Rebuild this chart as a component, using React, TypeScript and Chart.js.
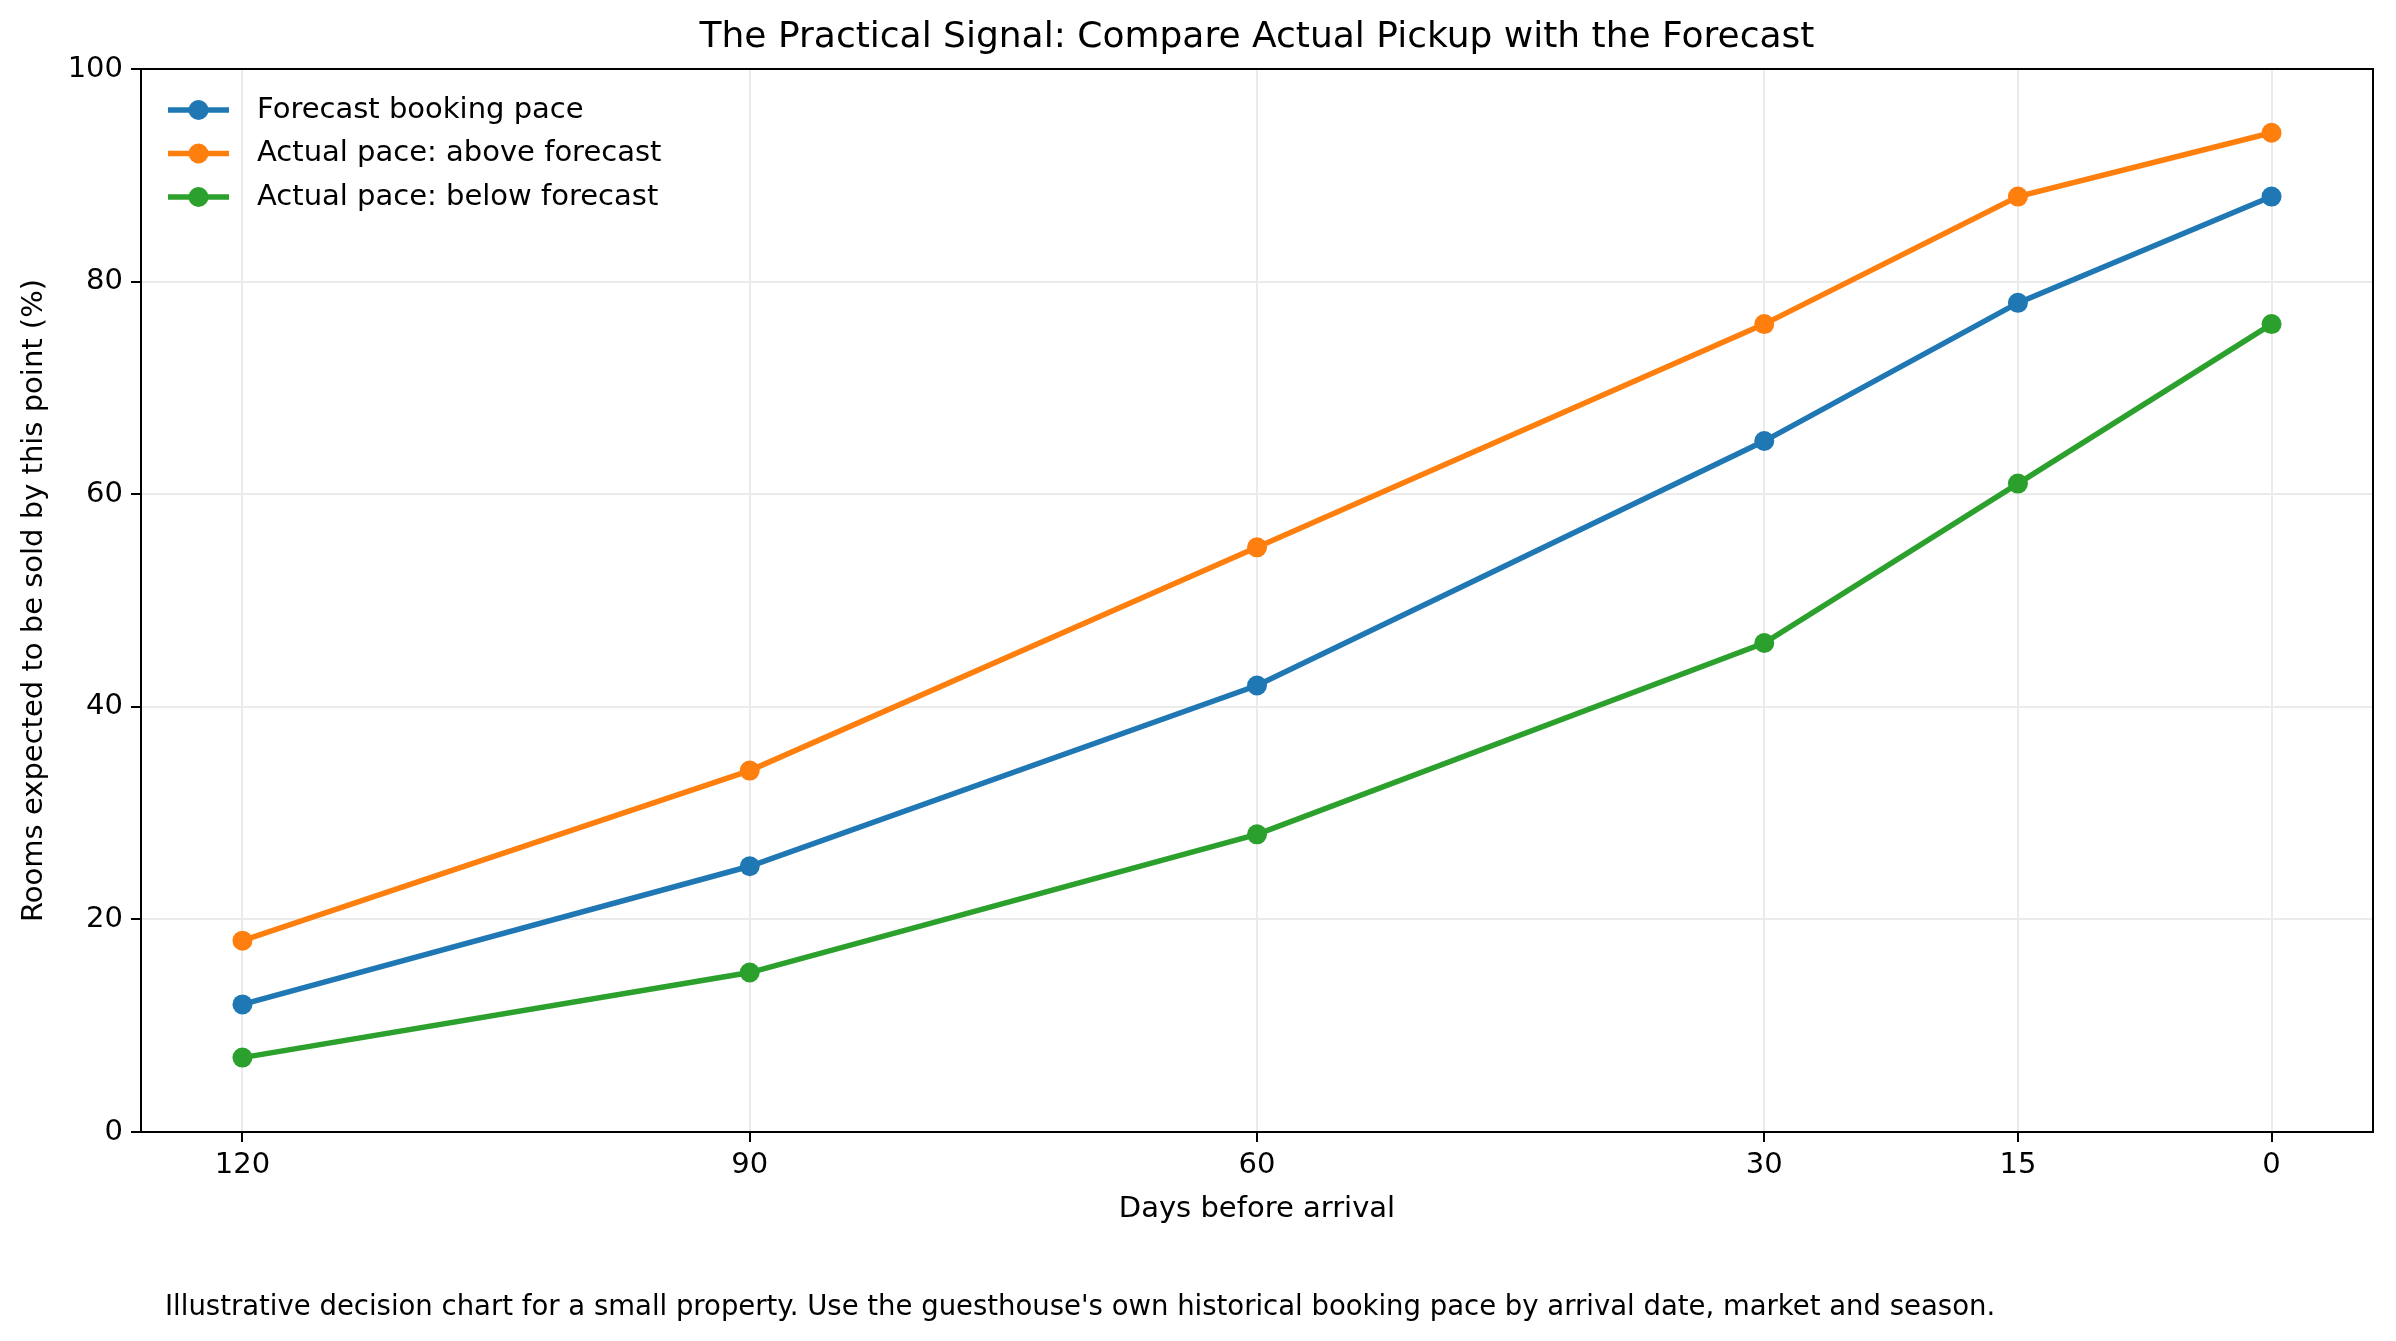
import React, { useEffect, useRef } from "react";
import { Chart, registerables } from "chart.js";
Chart.register(...registerables);

const days = [120, 90, 60, 30, 15, 0];
const forecast = [12, 25, 42, 65, 78, 88];
const above = [18, 34, 55, 76, 88, 94];
const below = [7, 15, 28, 46, 61, 76];
const seriesNames = ["Forecast booking pace", "Actual pace: above forecast", "Actual pace: below forecast"];
const colors = ["#1f77b4", "#ff7f0e", "#2ca02c"];
const yTicks = [0, 20, 40, 60, 80, 100];

const FONT = "DejaVu Sans";

const textPlugin = {
  id: "texts",
  afterDraw(chart: any) {
    const ctx = chart.ctx;
    const ca = chart.chartArea;
    ctx.save();
    ctx.fillStyle = "#000";
    ctx.textAlign = "center";
    ctx.textBaseline = "middle";
    ctx.font = `36px ${FONT}`;
    ctx.fillText("The Practical Signal: Compare Actual Pickup with the Forecast", (ca.left + ca.right) / 2, 38);
    ctx.font = `29px ${FONT}`;
    ctx.fillText("Days before arrival", (ca.left + ca.right) / 2, 1209);
    ctx.save();
    ctx.translate(34, (ca.top + ca.bottom) / 2);
    ctx.rotate(-Math.PI / 2);
    ctx.fillText("Rooms expected to be sold by this point (%)", 0, 0);
    ctx.restore();
    ctx.textAlign = "left";
    ctx.font = `27.5px ${FONT}`;
    ctx.fillText("Illustrative decision chart for a small property. Use the guesthouse's own historical booking pace by arrival date, market and season.", 165, 1308);
    ctx.font = `29px ${FONT}`;
    seriesNames.forEach((n, i) => {
      const y = 110 + i * 43.5;
      ctx.strokeStyle = colors[i];
      ctx.lineWidth = 5.5;
      ctx.beginPath();
      ctx.moveTo(168, y);
      ctx.lineTo(229, y);
      ctx.stroke();
      ctx.fillStyle = colors[i];
      ctx.beginPath();
      ctx.arc(198.5, y, 10, 0, Math.PI * 2);
      ctx.fill();
      ctx.fillStyle = "#000";
      ctx.fillText(n, 257, y);
    });
    ctx.restore();
  },
};

export default function App() {
  const ref = useRef<HTMLCanvasElement>(null);
  useEffect(() => {
    const mk = (d: number[], i: number) => ({
      label: seriesNames[i],
      data: days.map((x, k) => ({ x, y: d[k] })),
      borderColor: colors[i],
      backgroundColor: colors[i],
      borderWidth: 5.5,
      pointRadius: 10,
      pointBorderWidth: 0,
      pointHoverRadius: 10,
      tension: 0,
    });
    const chart = new Chart(ref.current!, {
      type: "line",
      data: { datasets: [mk(forecast, 0), mk(above, 1), mk(below, 2)] },
      options: {
        animation: false,
        responsive: false,
        layout: { padding: { top: 69, right: 23, left: 0, bottom: 0 } },
        plugins: { legend: { display: false }, title: { display: false }, tooltip: { enabled: false } },
        scales: {
          x: {
            type: "linear",
            reverse: true,
            min: -6,
            max: 126,
            afterBuildTicks: (s: any) => { s.ticks = days.map((v) => ({ value: v })); },
            afterFit: (s: any) => { s.height = 209; },
            ticks: { font: { family: FONT, size: 29 }, color: "#000", padding: 6, autoSkip: false, maxRotation: 0 },
            grid: { color: "#ebebeb", lineWidth: 2, tickLength: 10, tickColor: "#000", tickWidth: 2 },
            border: { color: "#000", width: 2 },
          },
          y: {
            min: 0,
            max: 100,
            afterBuildTicks: (s: any) => { s.ticks = yTicks.map((v) => ({ value: v })); },
            afterFit: (s: any) => { s.width = 141; },
            ticks: { font: { family: FONT, size: 29 }, color: "#000", padding: 8 },
            grid: { color: "#ebebeb", lineWidth: 2, tickLength: 10, tickColor: "#000", tickWidth: 2 },
            border: { color: "#000", width: 2 },
          },
        },
      },
      plugins: [textPlugin],
    } as any);
    return () => chart.destroy();
  }, []);
  return (
    <div style={{ position: "absolute", left: 0, top: 0, width: 2396, height: 1341, background: "#fff" }}>
      <canvas ref={ref} width={2396} height={1341} style={{ width: 2396, height: 1341 }} />
      <div style={{ position: "absolute", left: 140, top: 68, width: 2374 - 140, height: 1133 - 68, border: "2px solid #000", boxSizing: "border-box", pointerEvents: "none" }} />
    </div>
  );
}
